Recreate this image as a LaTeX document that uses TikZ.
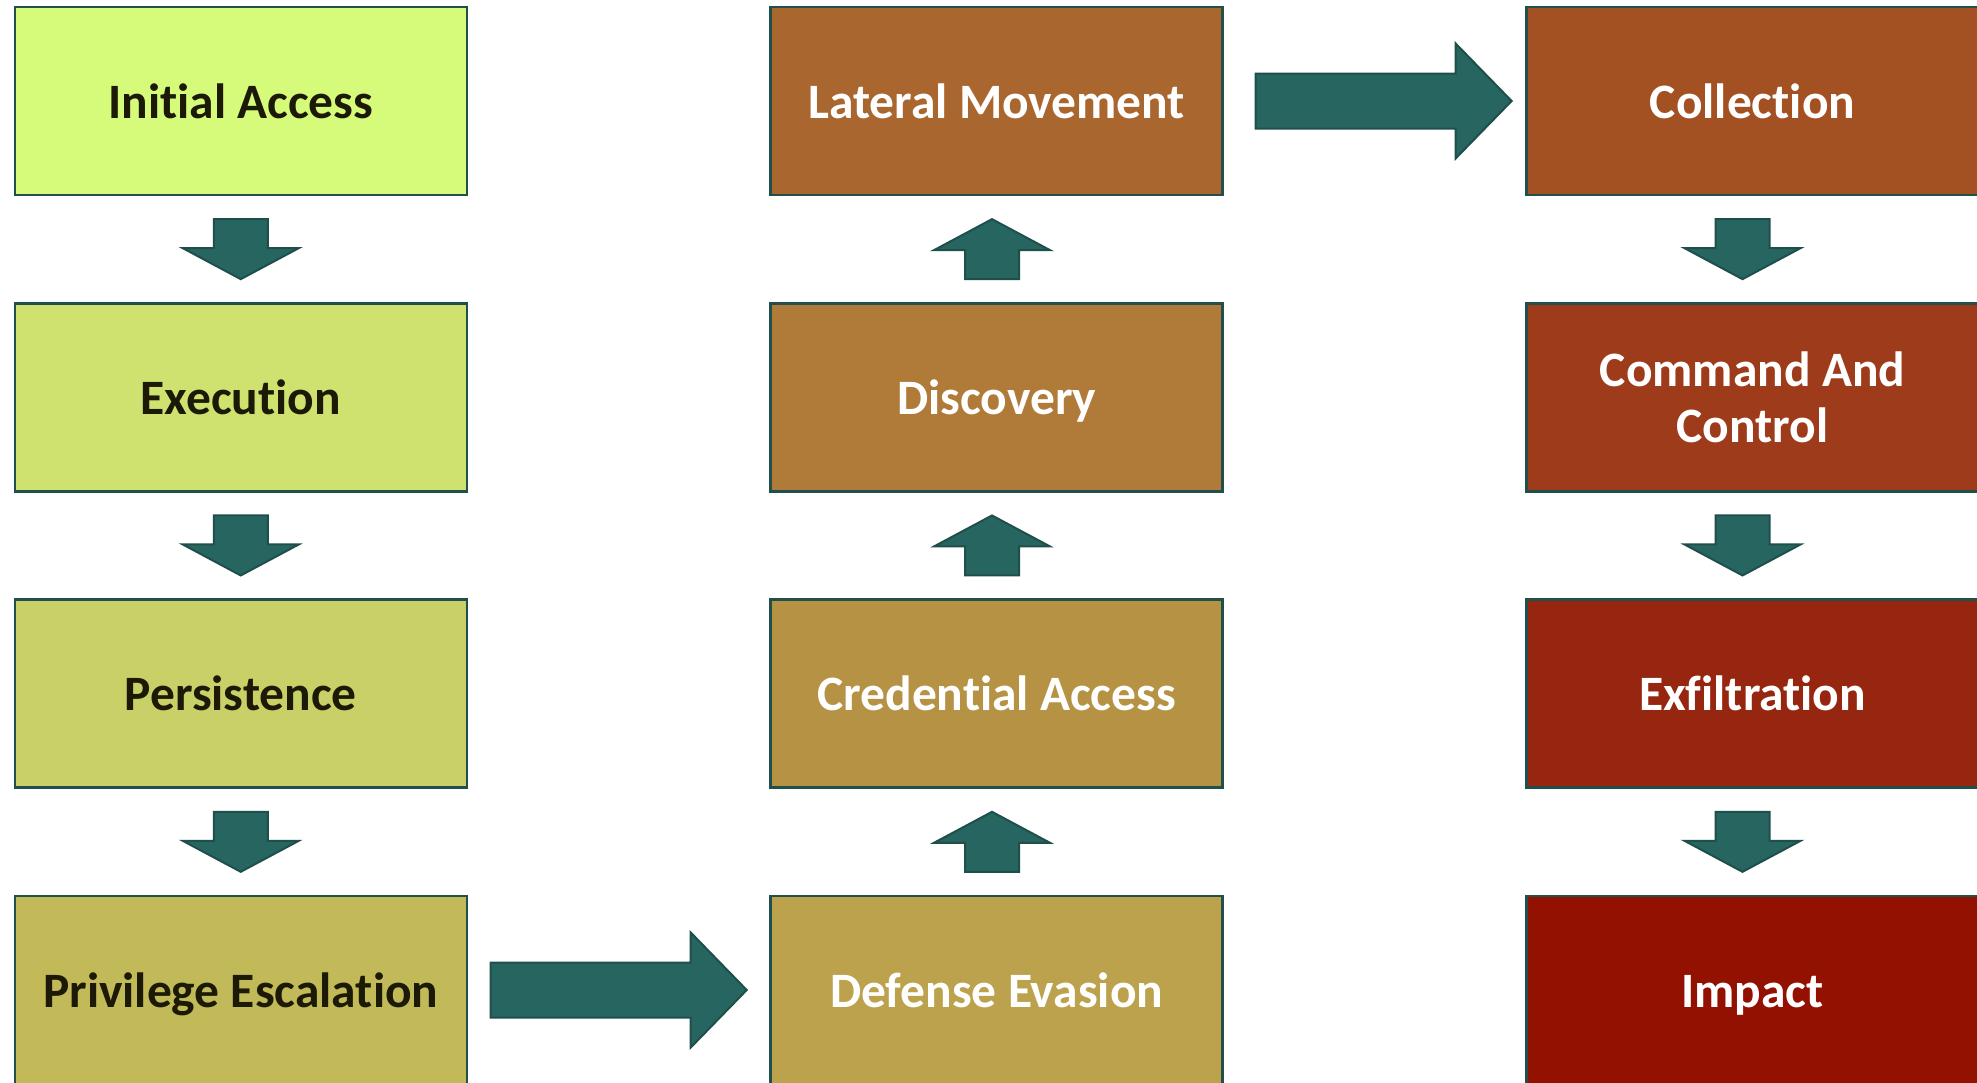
\documentclass[tikz,border=0pt]{standalone}
\usepackage{fontspec}
\setmainfont{Carlito}[Ligatures=NoCommon]
\usetikzlibrary{calc}

% stage fills, light to dark
\definecolor{cIA}{HTML}{D6FB7A}
\definecolor{cEX}{HTML}{CFE270}
\definecolor{cPE}{HTML}{C9D068}
\definecolor{cPR}{HTML}{C2BA58}
\definecolor{cDE}{HTML}{BCA24D}
\definecolor{cCA}{HTML}{B69244}
\definecolor{cDI}{HTML}{B07A38}
\definecolor{cLM}{HTML}{AA662F}
\definecolor{cCO}{HTML}{A35022}
\definecolor{cCC}{HTML}{9D3B1A}
\definecolor{cXF}{HTML}{972610}
\definecolor{cIM}{HTML}{921100}
\definecolor{boxline}{HTML}{21504C}
\definecolor{arrowfill}{HTML}{276561}
\definecolor{arrowline}{HTML}{1F4F4B}
\definecolor{darktext}{HTML}{1C1A07}

\tikzset{
  stage/.style={draw=boxline, line width=2.5pt, minimum width=452pt,
    minimum height=188pt, inner sep=0pt, align=center, text=white,
    text height=42pt, text depth=8pt,
    font=\fontsize{49.5}{56}\selectfont\bfseries},
  twoline/.style={text height={}, text depth={}},
  darkstage/.style={stage, text=darktext},
  blockarrow/.style={fill=arrowfill, draw=arrowline, line width=2pt, line join=miter},
  downarr/.pic={\draw[blockarrow] (-27,-30) -- (27,-30) -- (27,-1) -- (58,-1)
    -- (0,30) -- (-58,-1) -- (-27,-1) -- cycle;},
  uparr/.pic={\draw[blockarrow] (-27,30) -- (27,30) -- (27,1) -- (58,1)
    -- (0,-30) -- (-58,1) -- (-27,1) -- cycle;},
  rightarr/.pic={\draw[blockarrow] (-128,-27.5) -- (72,-27.5) -- (72,-57.5)
    -- (128,0) -- (72,57.5) -- (72,27.5) -- (-128,27.5) -- cycle;}
}

\begin{document}
\begin{tikzpicture}[x=1pt, y=-1pt]
\useasboundingbox (0,0) rectangle (1977,1082);
\clip (0,0) rectangle (1977,1082);
\fill[white] (0,0) rectangle (1977,1082);

% left column
\node[darkstage, fill=cIA] (ia) at (240.75,101)   {Initial Access};
\node[darkstage, fill=cEX] (ex) at (240.75,397.3) {Execution};
\node[darkstage, fill=cPE] (pe) at (240.75,693.6) {Persistence};
\node[darkstage, fill=cPR] (pr) at (240.75,990)   {Privilege Escalation};

% middle column
\node[stage, fill=cDE] (de) at (996.7,990)   {Defense Evasion};
\node[stage, fill=cCA] (ca) at (996.7,693.6) {Credential Access};
\node[stage, fill=cDI] (di) at (996.7,397.3) {Discovery};
\node[stage, fill=cLM] (lm) at (996.7,101)   {Lateral Movement};

% right column
\node[stage, fill=cCO] (co) at (1752.5,101)   {Collection};
\node[stage, twoline, fill=cCC] (cc) at (1752.5,397.3) {Command And\\Control};
\node[stage, fill=cXF] (xf) at (1752.5,693.6) {Exfiltration};
\node[stage, fill=cIM] (im) at (1752.5,990)   {Impact};

% flow arrows, left column
\pic at ($(ia.south)!.5!(ex.north)$) {downarr};
\pic at ($(ex.south)!.5!(pe.north)$) {downarr};
\pic at ($(pe.south)!.5!(pr.north)$) {downarr};

% across to the middle column
\pic at ($(pr.east)!.5!(de.west)$) {rightarr};

% middle column, upwards
\pic at ($(de.north)!.5!(ca.south)+(-4.7,0)$) {uparr};
\pic at ($(ca.north)!.5!(di.south)+(-4.7,0)$) {uparr};
\pic at ($(di.north)!.5!(lm.south)+(-4.7,0)$) {uparr};

% across to the right column
\pic at ($(lm.east)!.5!(co.west)+(9,0)$) {rightarr};

% right column, downwards
\pic at ($(co.south)!.5!(cc.north)+(-10,0)$) {downarr};
\pic at ($(cc.south)!.5!(xf.north)+(-10,0)$) {downarr};
\pic at ($(xf.south)!.5!(im.north)+(-10,0)$) {downarr};
\end{tikzpicture}
\end{document}
